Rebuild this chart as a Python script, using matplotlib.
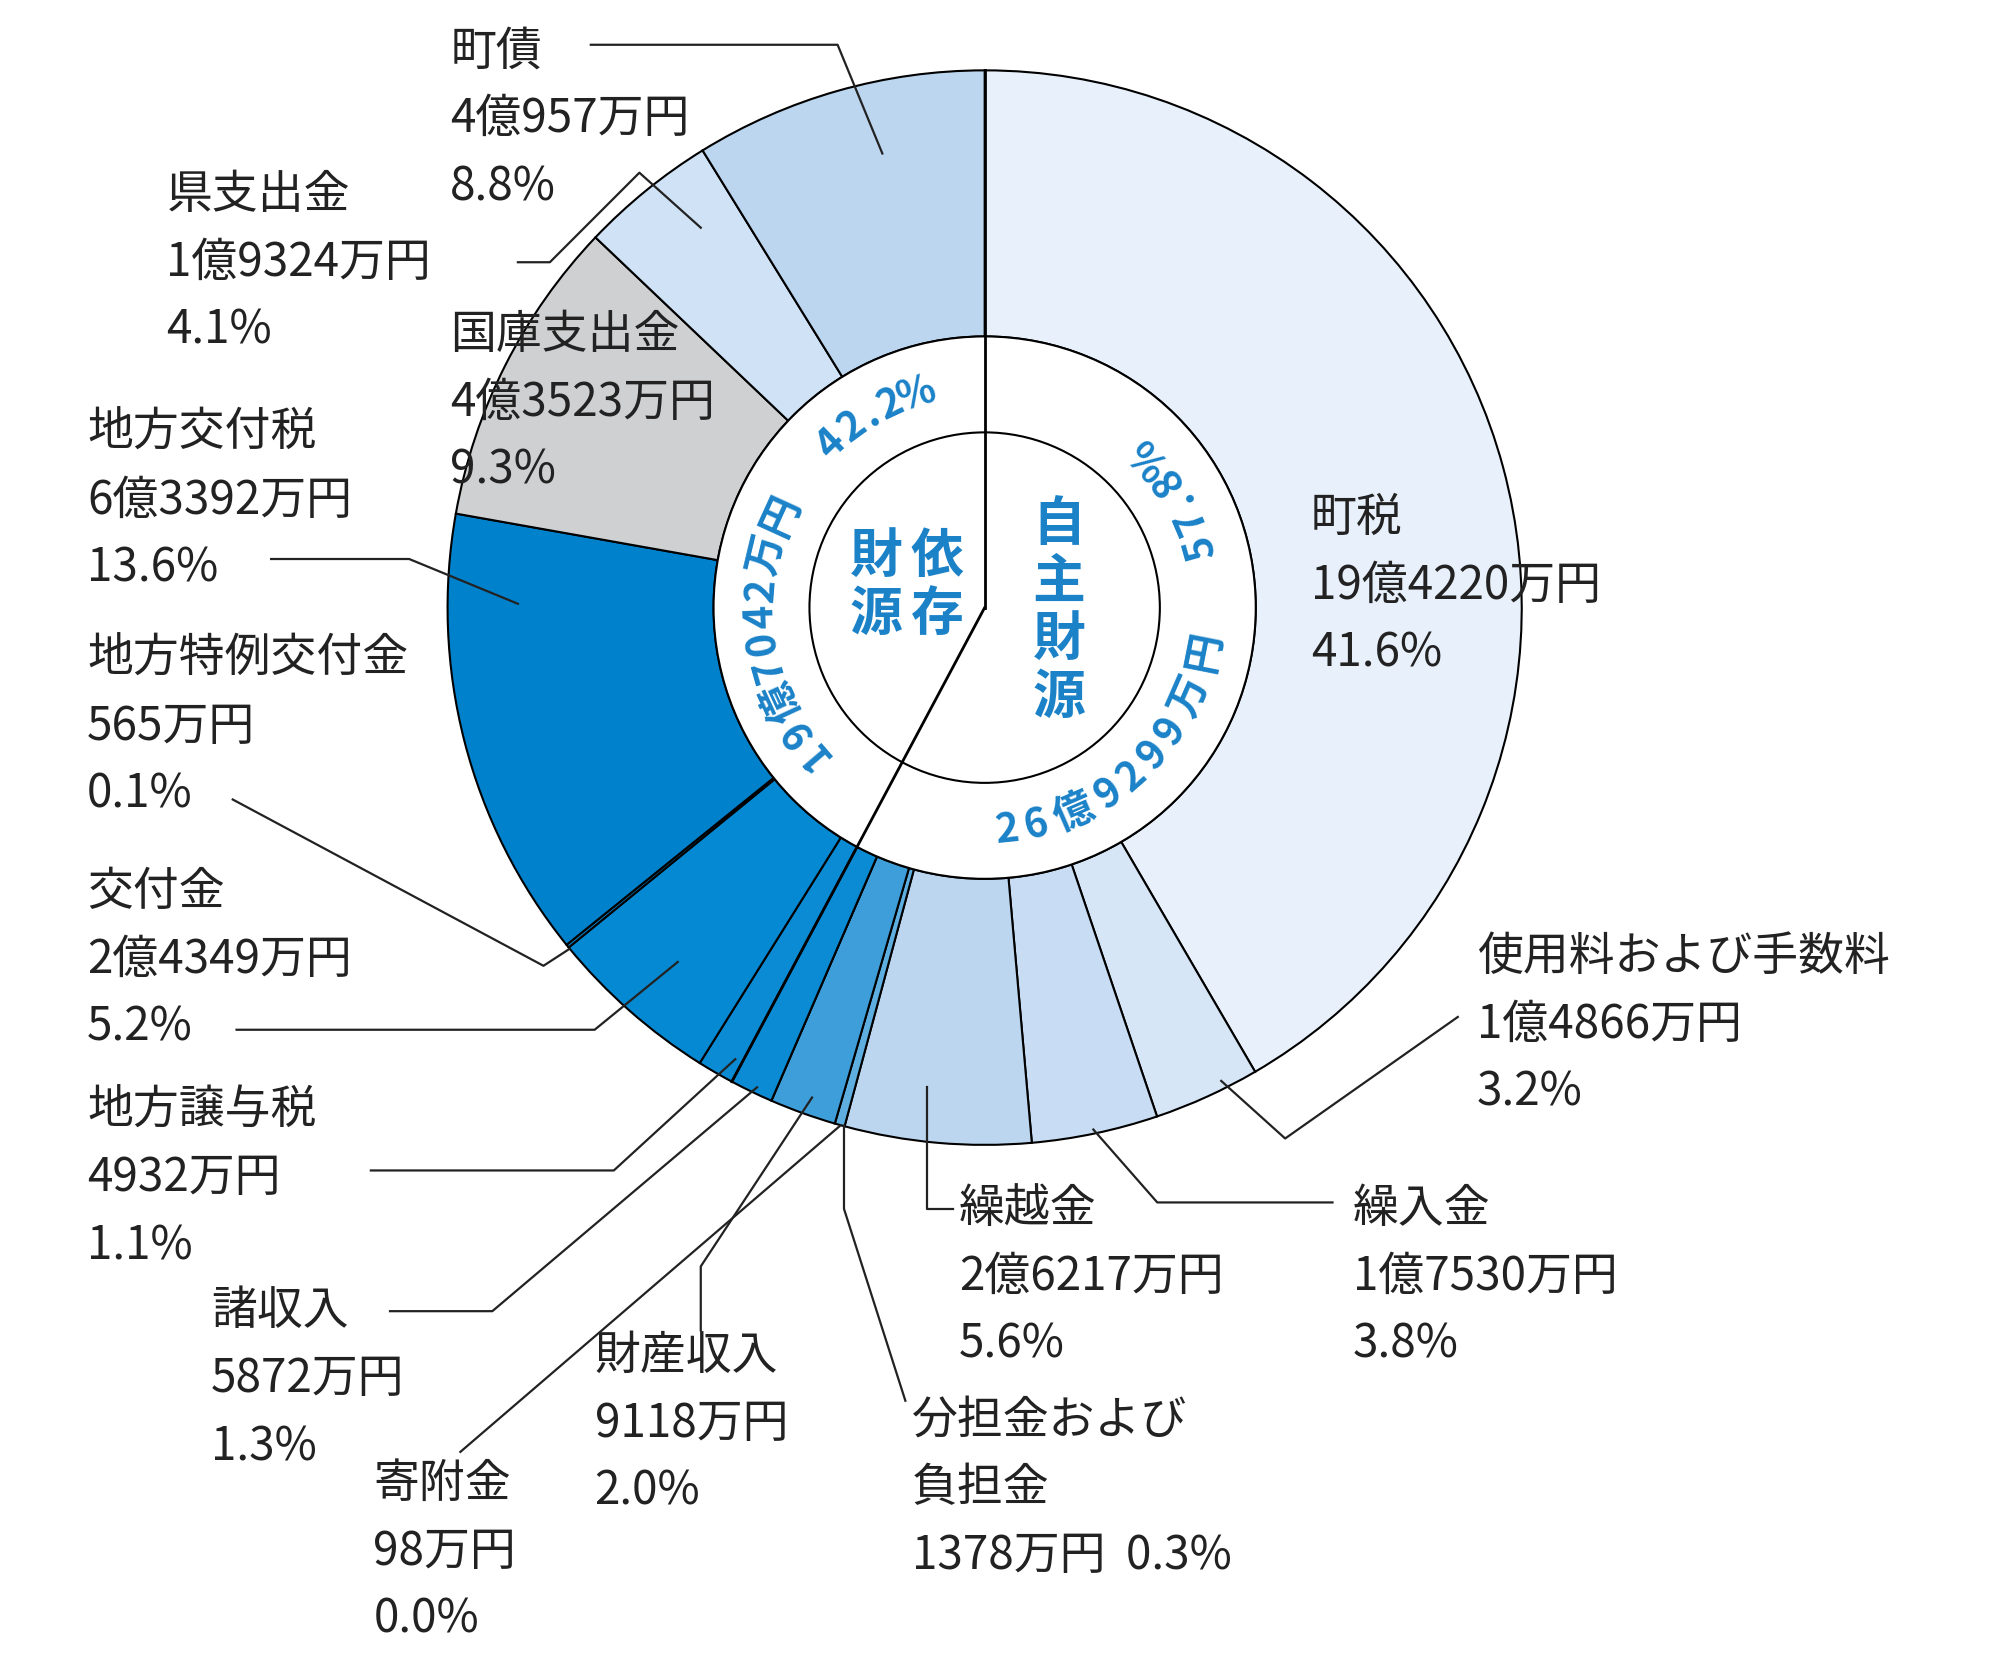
import numpy as np
import matplotlib.pyplot as plt
from matplotlib.patches import Circle

plt.rcParams['font.family'] = 'Noto Sans CJK JP'

# slices, clockwise from 12 o'clock
names = ['町税', '使用料および手数料', '繰入金', '繰越金', '分担金および負担金', '財産収入', '寄附金',
         '諸収入', '地方譲与税', '交付金', '地方特例交付金', '地方交付税', '国庫支出金', '県支出金', '町債']
shares = [41.6, 3.2, 3.8, 5.6, 0.3, 2.0, 0.0, 1.3, 1.1, 5.2, 0.1, 13.6, 9.3, 4.1, 8.8]
amounts = ['19億4220万円', '1億4866万円', '1億7530万円', '2億6217万円', '1378万円', '9118万円', '98万円',
           '5872万円', '4932万円', '2億4349万円', '565万円', '6億3392万円', '4億3523万円', '1億9324万円', '4億957万円']
colors = ['#e8f1fb', '#d6e6f6', '#c8ddf3', '#bcd6f0', '#5eaee0', '#3d9ed9', '#2a95d6',
          '#0a8bd4', '#0a8bd4', '#0589d2', '#0586d0', '#0081cc', '#cfd0d1', '#d0e3f6', '#bcd6f0']
own_share, dep_share = 57.8, 42.2
own_amount, dep_amount = '26億9299万円', '19億7042万円'

W, H = 1564, 1293
cx, cy = 770, 475
R_out, R_ring, R_in = 420, 212, 137
BLUE = '#1b82c8'

fig = plt.figure(figsize=(20, 16.54), dpi=100)
ax = fig.add_axes([0, 0, 1, 1])


def Y(y):
    return H - y


ax.pie(shares, colors=colors, radius=R_out, center=(cx, Y(cy)), startangle=90, counterclock=False,
       wedgeprops=dict(width=R_out - R_ring, edgecolor='black', linewidth=1.5))
ax.set_xlim(0, W)
ax.set_ylim(0, H)
ax.set_aspect('auto')
ax.axis('off')
ax.add_patch(Circle((cx, Y(cy)), R_ring, facecolor='white', edgecolor='black', lw=1.5, zorder=3))
ax.add_patch(Circle((cx, Y(cy)), R_in, facecolor='white', edgecolor='black', lw=1.5, zorder=4))
for a in [90, 90 - own_share * 3.6]:
    t = np.radians(a)
    ax.plot([cx, cx + R_out * np.cos(t)], [Y(cy), Y(cy) + R_out * np.sin(t)], color='black', lw=2, zorder=5)


def width_of(ch):
    if ch == '.':
        return 0.35
    if ch.isascii():
        return 0.62
    return 1.0


def curved(s, r, a0, a1, outward):
    w = [width_of(c) for c in s]
    tot = sum(w)
    pos = 0
    for c, wi in zip(s, w):
        f = (pos + wi / 2) / tot
        a = a0 + (a1 - a0) * f
        t = np.radians(a)
        rot = a - 90 if outward else a + 90
        ax.text(cx + r * np.cos(t), Y(cy) + r * np.sin(t), c, rotation=rot, rotation_mode='anchor',
                ha='center', va='center', fontsize=29, fontweight='bold', color=BLUE, zorder=6)
        pos += wi


curved(own_amount, 175, -88, -5, False)
curved(f'{own_share}%', 175, 12, 46, False)
curved(dep_amount, 175, 224, 150, True)
curved(f'{dep_share}%', 175, 137, 104, True)

for i, c in enumerate('自主財源'):
    ax.text(828, Y(410 + i * 45), c, ha='center', va='center', fontsize=38, fontweight='bold', color=BLUE, zorder=6)
for i, c in enumerate('依存'):
    ax.text(733, Y(435 + i * 45), c, ha='center', va='center', fontsize=38, fontweight='bold', color=BLUE, zorder=6)
for i, c in enumerate('財源'):
    ax.text(685, Y(435 + i * 45), c, ha='center', va='center', fontsize=38, fontweight='bold', color=BLUE, zorder=6)

# label positions (x, first line y) and leader lines
layout = {
    '町税': (1025, 405, None),
    '使用料および手数料': (1155, 748, [(1140, 795), (1005, 890), (955, 845)]),
    '繰入金': (1058, 945, [(1042, 940), (905, 940), (855, 883)]),
    '繰越金': (750, 945, [(745, 945), (725, 945), (725, 850)]),
    '分担金および負担金': (713, 1110, [(708, 1095), (660, 945), (660, 880)]),
    '財産収入': (465, 1060, [(548, 1040), (548, 990), (635, 858)]),
    '寄附金': (292, 1160, [(360, 1135), (657, 880)]),
    '諸収入': (165, 1025, [(305, 1025), (385, 1025), (592, 850)]),
    '地方譲与税': (68, 868, [(290, 915), (480, 915), (575, 828)]),
    '交付金': (68, 697, [(185, 805), (465, 805), (530, 752)]),
    '地方特例交付金': (68, 515, [(182, 625), (425, 755), (445, 742)]),
    '地方交付税': (68, 338, [(212, 437), (320, 437), (405, 472)]),
    '国庫支出金': (352, 262, None),
    '県支出金': (130, 152, [(405, 205), (430, 205), (500, 135), (548, 178)]),
    '町債': (352, 40, [(462, 35), (655, 35), (690, 120)]),
}
for name, share, amt in zip(names, shares, amounts):
    x, y0, leader = layout[name]
    if name == '分担金および負担金':
        lines = ['分担金および', '負担金', f'{amt}  {share}%']
    else:
        lines = [name, amt, f'{share}%']
    for k, ln in enumerate(lines):
        ax.text(x, Y(y0 + k * 53), ln, ha='left', va='center', fontsize=33, color='#222222', zorder=7)
    if leader:
        xs, ys = zip(*leader)
        ax.plot(xs, [Y(v) for v in ys], color='#222222', lw=1.6, zorder=6)

fig.savefig('out.png', dpi=100)
